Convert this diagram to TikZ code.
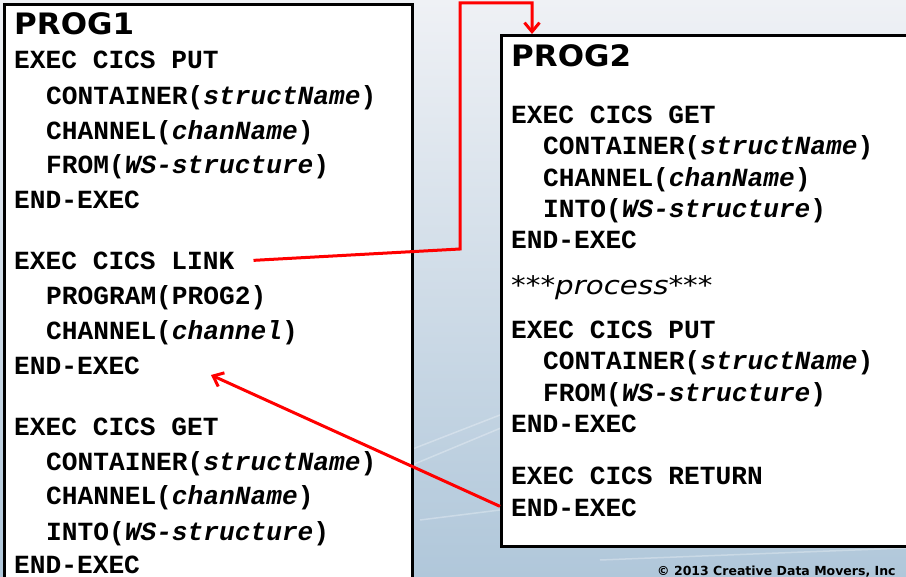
\documentclass[tikz,border=0pt]{standalone}
\usepackage{fontspec}
\usepackage{graphicx}
\setmonofont{Liberation Mono}
\newfontfamily\verd{DejaVu Sans}
\usetikzlibrary{arrows.meta,calc}
\definecolor{bgtop}{RGB}{239,241,245}
\definecolor{bgmid}{RGB}{222,231,239}
\definecolor{bgbot}{RGB}{176,199,218}
\begin{document}
\begin{tikzpicture}[x=1pt,y=-1pt,
  code/.style={anchor=base west,inner sep=0pt,font=\fontsize{26.2}{30}\selectfont\ttfamily\bfseries},
  ttl/.style={anchor=base west,inner sep=0pt,font=\fontsize{29.5}{32}\selectfont\verd\bfseries},
  box/.style={draw=black,line width=3pt,fill=white,inner sep=0pt},
  link/.style={draw=red,line width=3pt,-{Straight Barb[length=9pt,width=15pt]}},
  streak/.style={draw=white,opacity=0.3,line width=1.5pt}]
\useasboundingbox (0,0) rectangle (906,577);
\clip (0,0) rectangle (906,577);
% background
\shade[top color=bgtop,middle color=bgmid,bottom color=bgbot] (0,0) rectangle (906,577);
\draw[streak] (400,470) -- (520,420);
\draw[streak] (410,450) -- (500,415);
\draw[streak] (420,520) -- (500,510);
\draw[streak] (600,560) -- (906,548);
% boxes
\node[box,anchor=north west,minimum width=408pt,minimum height=620pt] (prog1) at (3,3) {};
\node[box,anchor=north west,minimum width=460pt,minimum height=511pt] (prog2) at (500,34) {};
% PROG1 text
\node[ttl] (t1) at (14,35) {\scalebox{1.05}[1]{PROG1}};
\node[code] (a1) at (14,69) {EXEC CICS PUT};
\node[code] (a2) at (46,105) {CONTAINER(\textit{structName})};
\node[code] (a3) at (46,140) {CHANNEL(\textit{chanName})};
\node[code] (a4) at (46,174) {FROM(\textit{WS-structure})};
\node[code] (a5) at (14,209) {END-EXEC};
\node[code] (b1) at (14,270) {EXEC CICS LINK};
\node[code] (b2) at (46,305) {PROGRAM(PROG2)};
\node[code] (b3) at (46,340) {CHANNEL(\textit{channel})};
\node[code] (b4) at (14,375) {END-EXEC};
\node[code] (c1) at (14,436) {EXEC CICS GET};
\node[code] (c2) at (46,471) {CONTAINER(\textit{structName})};
\node[code] (c3) at (46,505) {CHANNEL(\textit{chanName})};
\node[code] (c4) at (46,540) {INTO(\textit{WS-structure})};
\node[code] (c5) at (14,573) {END-EXEC};
% PROG2 text
\node[ttl] (t2) at (511,67) {\scalebox{1.05}[1]{PROG2}};
\node[code] (d1) at (511,124) {EXEC CICS GET};
\node[code] (d2) at (543,155) {CONTAINER(\textit{structName})};
\node[code] (d3) at (543,187) {CHANNEL(\textit{chanName})};
\node[code] (d4) at (543,218) {INTO(\textit{WS-structure})};
\node[code] (d5) at (511,249) {END-EXEC};
\node[anchor=base west,inner sep=0pt,font=\fontsize{25.5}{30}\selectfont\verd\itshape] (proc) at (511,295) {\scalebox{1.15}[1]{***process***}};
\node[code] (e1) at (511,339) {EXEC CICS PUT};
\node[code] (e2) at (543,370) {CONTAINER(\textit{structName})};
\node[code] (e3) at (543,402) {FROM(\textit{WS-structure})};
\node[code] (e4) at (511,433) {END-EXEC};
\node[code] (f1) at (511,485) {EXEC CICS RETURN};
\node[code] (f2) at (511,516) {END-EXEC};
% copyright
\node[anchor=base west,inner sep=0pt,font=\fontsize{12.5}{14}\selectfont\verd\bfseries] (copy) at (657,575.5) {© 2013 Creative Data Movers, Inc};
% connectors
\coordinate (s1) at ($(b1.east)+(19,-1)$);
\coordinate (k1) at (460,249);
\coordinate (k2) at (460,3);
\coordinate (k3) at (532,3);
\draw[link] (s1) -- (k1) -- (k2) -- (k3) -- (k3 |- prog2.north);
\coordinate (s2) at ($(prog2.west |- f2.west)+(0,-1)$);
\coordinate (e) at (211,375);
\draw[link] (s2) -- (e);
\end{tikzpicture}
\end{document}
